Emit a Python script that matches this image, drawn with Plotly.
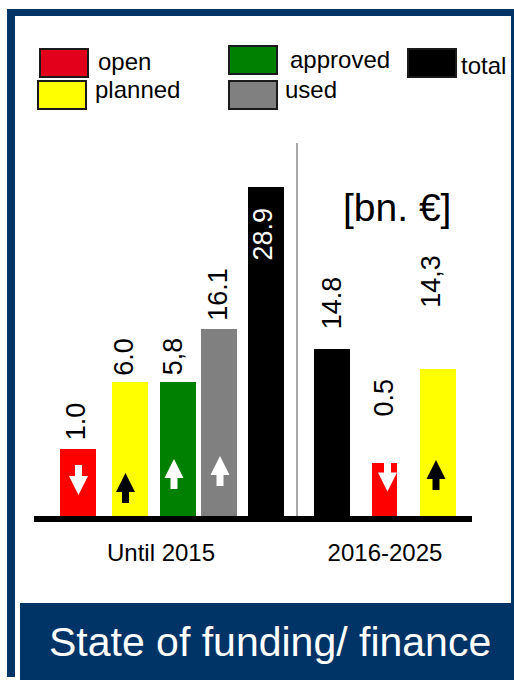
import plotly.graph_objects as go

# ---------------- data ----------------
periods = ["Until 2015", "2016-2025"]
bar_series = ["open", "planned", "approved", "used", "total", "total", "open", "planned"]
bar_period = ["Until 2015"] * 5 + ["2016-2025"] * 3
value_labels = ["1.0", "6.0", "5,8", "16.1", "28.9", "14.8", "0.5", "14,3"]
# heights as drawn in the original (bn. €; small values are drawn exaggerated)
drawn_height = [5.9, 11.8, 11.8, 16.4, 28.9, 14.7, 4.7, 12.9]
trend = ["down", "up", "up", "up", "", "", "down", "up"]
legend_items = ["open", "planned", "approved", "used", "total"]
unit_label = "[bn. €]"
title_text = "State of funding/ finance"

# ---------------- layout / style constants ----------------
W, H = 514, 680
BASE = 516          # pixel row of the baseline
PXU = 11.38         # pixels per unit of drawn height
FONT = "Liberation Sans, Arial, sans-serif"
NAVY = "#003366"

series_color = {"open": "#FF0000", "planned": "#FFFF00", "approved": "#008000",
                "used": "#808080", "total": "#000000"}
legend_color = {"open": "#E2001A", "planned": "#FFFF00", "approved": "#008000",
                "used": "#808080", "total": "#000000"}
bar_x = [78, 130, 178, 219, 266, 332, 384.5, 438]
bar_w = [36, 36, 36, 36, 36, 36, 25, 36]
period_x = [161, 385]
label_gap = [6, 4, 4, 6, -19, 17, 44, 59]
label_dx = [-2.5, -6, -5.5, -1, -3, 0, -0.5, -7]
arrow_rise = [36, 28, 42, 45, 0, 0, 39.5, 41]
arrow_dx = [0.5, -4.5, -4, 1, 0, 0, 3, -2]
arrow_color = {"open": "white", "planned": "black", "approved": "white", "used": "white"}


def px(x):
    return x / W


def py(y):
    return 1 - y / H


fig = go.Figure()
fig.add_trace(go.Bar(
    x=bar_x, y=drawn_height, width=bar_w,
    marker=dict(color=[series_color[s] for s in bar_series], line=dict(width=0)),
    customdata=list(zip(bar_series, bar_period, value_labels)),
    hovertemplate="%{customdata[1]}<br>%{customdata[0]}: %{customdata[2]}<extra></extra>",
    showlegend=False,
))

shapes = []
annotations = []

# value labels
for i, lab in enumerate(value_labels):
    inside = label_gap[i] < 0
    annotations.append(dict(
        x=bar_x[i], y=drawn_height[i], xref="x", yref="y",
        text=lab, showarrow=False, textangle=-90,
        xanchor="center", yanchor="top" if inside else "bottom",
        xshift=label_dx[i], yshift=label_gap[i],
        font=dict(family=FONT, size=27, color="white" if inside else "black"),
    ))

# block arrows inside bars
AL, AH, AW, AS = 30, 19, 19, 7
for i, t in enumerate(trend):
    if not t:
        continue
    cx = bar_x[i] + arrow_dx[i]
    cy = BASE - arrow_rise[i]
    d = -1 if t == "up" else 1
    tip = cy + d * AL / 2
    hb = tip - d * AH
    tail = cy - d * AL / 2
    pts = [(cx, tip), (cx + AW / 2, hb), (cx + AS / 2, hb), (cx + AS / 2, tail),
           (cx - AS / 2, tail), (cx - AS / 2, hb), (cx - AW / 2, hb)]
    path = "M " + " L ".join(f"{px(a):.5f},{py(b):.5f}" for a, b in pts) + " Z"
    shapes.append(dict(type="path", xref="paper", yref="paper", path=path,
                       fillcolor=arrow_color[bar_series[i]], line=dict(width=0)))

# divider between periods
shapes.append(dict(type="line", xref="paper", yref="paper", x0=px(297), x1=px(297),
                   y0=py(143), y1=py(516), line=dict(color="#8c8c8c", width=1.5)))

# unit label
annotations.append(dict(x=px(396.5), y=py(207), xref="paper", yref="paper", text=unit_label,
                        showarrow=False, xanchor="center", yanchor="middle",
                        font=dict(family=FONT, size=39, color="black")))

# legend (custom placement)
leg_box = {"open": (40, 49), "planned": (38, 81), "approved": (229, 46),
           "used": (229, 81), "total": (408, 49)}
leg_text = {"open": (96, 61), "planned": (93, 90), "approved": (288, 59),
            "used": (283, 90), "total": (459, 65)}
for name in legend_items:
    bx, by = leg_box[name]
    shapes.append(dict(type="rect", xref="paper", yref="paper",
                       x0=px(bx), x1=px(bx + 48), y0=py(by), y1=py(by + 28),
                       fillcolor=legend_color[name], line=dict(color="#1a1a1a", width=2)))
    tx, ty = leg_text[name]
    annotations.append(dict(x=px(tx), y=py(ty), xref="paper", yref="paper", text=name,
                            showarrow=False, xanchor="left", yanchor="middle",
                            font=dict(family=FONT, size=24, color="black")))

# frame
for (x0, y0, x1, y1) in [(7, 9, 15, 677), (7, 9, 514, 16), (511, 9, 514, 603), (20, 603, 514, 680)]:
    shapes.append(dict(type="rect", xref="paper", yref="paper", x0=px(x0), x1=px(x1),
                       y0=py(y0), y1=py(y1), fillcolor=NAVY, line=dict(width=0), layer="below"))

annotations.append(dict(x=px(270), y=py(642), xref="paper", yref="paper", text=title_text,
                        showarrow=False, xanchor="center", yanchor="middle",
                        font=dict(family=FONT, size=41, color="white")))

fig.update_layout(
    width=W, height=H, margin=dict(l=0, r=0, t=0, b=0),
    paper_bgcolor="white", plot_bgcolor="rgba(0,0,0,0)",
    bargap=0, shapes=shapes, annotations=annotations,
    xaxis=dict(domain=[px(34), px(472)], range=[34, 472], showgrid=False, zeroline=False,
               showline=True, linewidth=6, linecolor="black", ticks="",
               tickvals=period_x, ticktext=periods, ticklabelstandoff=10,
               tickfont=dict(family=FONT, size=24, color="black"), fixedrange=True),
    yaxis=dict(domain=[(H - BASE) / H, 1], range=[0, BASE / PXU], visible=False,
               fixedrange=True),
    showlegend=False,
)

fig.write_html("out.html", config={"displayModeBar": False},
               post_script="document.body.style.margin='0';document.body.style.overflow='hidden';")
